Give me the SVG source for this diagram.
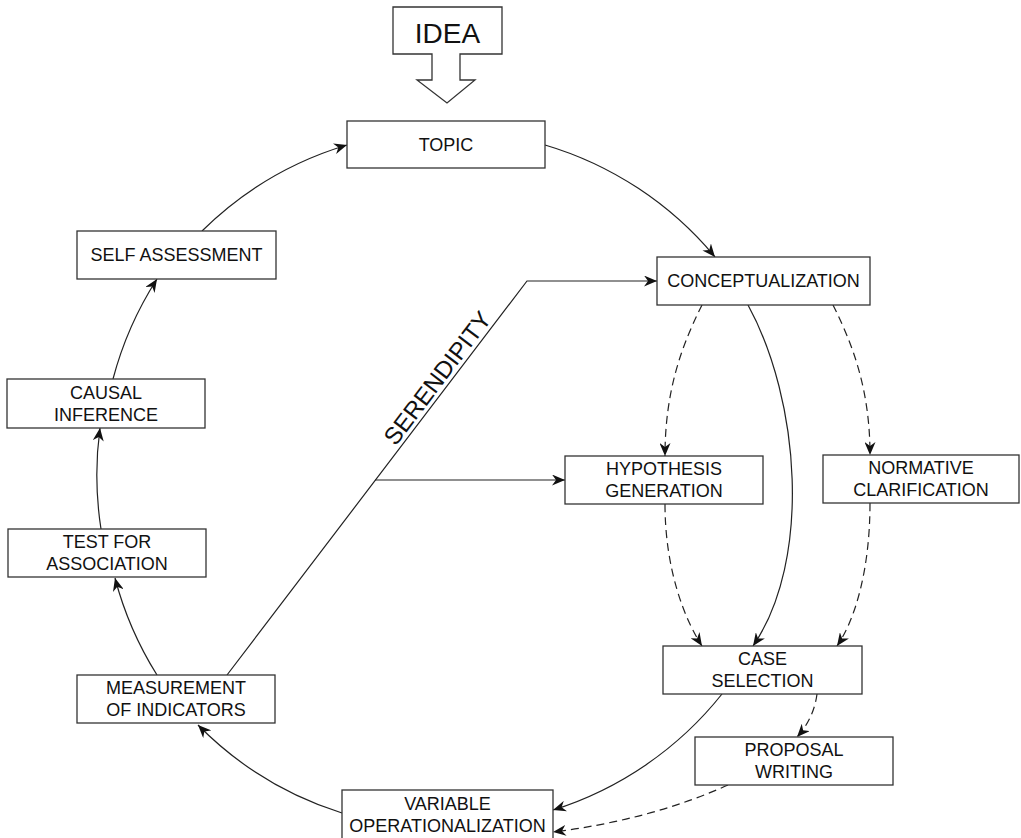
<svg xmlns="http://www.w3.org/2000/svg" width="1021" height="838" viewBox="0 0 1021 838">
<style>
.box{fill:#fff;stroke:#333;stroke-width:1.3}
.t{font-family:"Liberation Sans",Arial,sans-serif;font-size:18px;fill:#111;text-anchor:middle}
.c{fill:none;stroke:#222;stroke-width:1.2}
.d{fill:none;stroke:#222;stroke-width:1.2;stroke-dasharray:8 5}
.a{marker-end:url(#arr)}
</style>
<defs>
<marker id="arr" viewBox="0 0 13 11" refX="13" refY="5.5" markerWidth="13" markerHeight="11" markerUnits="userSpaceOnUse" orient="auto">
<path d="M0,0 L13,5.5 L0,11 L4,5.5 z" fill="#111" stroke="none"/>
</marker>
</defs>
<rect width="1021" height="838" fill="#fff"/>
<g id="connectors">
<path class="c a" d="M545,145 A350,350 0 0 1 715,257"/>
<path class="c a" d="M202,231 A350,350 0 0 1 347,145"/>
<path class="c a" d="M113,379 A350,350 0 0 1 157,279"/>
<path class="c a" d="M101,529 A350,350 0 0 1 100,428"/>
<path class="c a" d="M157,675 A350,350 0 0 1 115,578"/>
<path class="c a" d="M342,813 A350,350 0 0 1 198,725"/>
<path class="c a" d="M722,694 A350,350 0 0 1 553,810"/>
<path class="c a" d="M227,675 L527,281 L657,281"/>
<path class="c a" d="M375,480 L565,480"/>
<path class="c a" d="M748,305 C800,400 812,560 753,646"/>
<path class="d a" d="M702,305 C682,345 665,390 665,456"/>
<path class="d a" d="M833,305 C853,345 870,390 870,455"/>
<path class="d a" d="M665,504 C665,570 685,620 702,646"/>
<path class="d a" d="M870,503 C870,570 855,620 837,646"/>
<path class="d a" d="M817,694 C815,710 808,725 797,737"/>
<path class="d a" d="M728,785 Q650,820 553,832"/>
</g>
<g id="idea">
<path class="box" d="M393,7 L502,7 L502,54 L460,54 L460,80 L475,80 L447,103 L417,80 L432,80 L432,54 L393,54 Z"/>
<text class="t" x="447.5" y="43" style="font-size:28px">IDEA</text>
</g>
<g id="topic">
<rect class="box" x="347" y="121" width="198" height="47"/>
<text class="t" x="446" y="151">TOPIC</text>
</g>
<g id="conceptualization">
<rect class="box" x="657" y="257" width="213" height="48"/>
<text class="t" x="763.5" y="287">CONCEPTUALIZATION</text>
</g>
<g id="self-assessment">
<rect class="box" x="77" y="231" width="199" height="48"/>
<text class="t" x="176.5" y="261">SELF ASSESSMENT</text>
</g>
<g id="causal-inference">
<rect class="box" x="7" y="379" width="198" height="49"/>
<text class="t" x="106" y="398.5">CAUSAL</text>
<text class="t" x="106" y="420.5">INFERENCE</text>
</g>
<g id="test-for-association">
<rect class="box" x="8" y="529" width="198" height="48"/>
<text class="t" x="107" y="548">TEST FOR</text>
<text class="t" x="107" y="570">ASSOCIATION</text>
</g>
<g id="measurement">
<rect class="box" x="77" y="675" width="198" height="48"/>
<text class="t" x="176" y="694">MEASUREMENT</text>
<text class="t" x="176" y="716">OF INDICATORS</text>
</g>
<g id="hypothesis">
<rect class="box" x="565" y="456" width="198" height="48"/>
<text class="t" x="664" y="475">HYPOTHESIS</text>
<text class="t" x="664" y="497">GENERATION</text>
</g>
<g id="normative">
<rect class="box" x="823" y="455" width="196" height="48"/>
<text class="t" x="921" y="474">NORMATIVE</text>
<text class="t" x="921" y="496">CLARIFICATION</text>
</g>
<g id="case-selection">
<rect class="box" x="663" y="646" width="199" height="48"/>
<text class="t" x="762.5" y="665">CASE</text>
<text class="t" x="762.5" y="687">SELECTION</text>
</g>
<g id="proposal-writing">
<rect class="box" x="695" y="737" width="198" height="48"/>
<text class="t" x="794" y="756">PROPOSAL</text>
<text class="t" x="794" y="778">WRITING</text>
</g>
<g id="variable-operationalization">
<rect class="box" x="342" y="790" width="211" height="50"/>
<text class="t" x="447.5" y="810">VARIABLE</text>
<text class="t" x="447.5" y="832">OPERATIONALIZATION</text>
</g>
<g id="serendipity-label">
<text class="t" x="0" y="0" style="font-size:24px" transform="translate(444,383) rotate(-52.7)">SERENDIPITY</text>
</g>
</svg>
